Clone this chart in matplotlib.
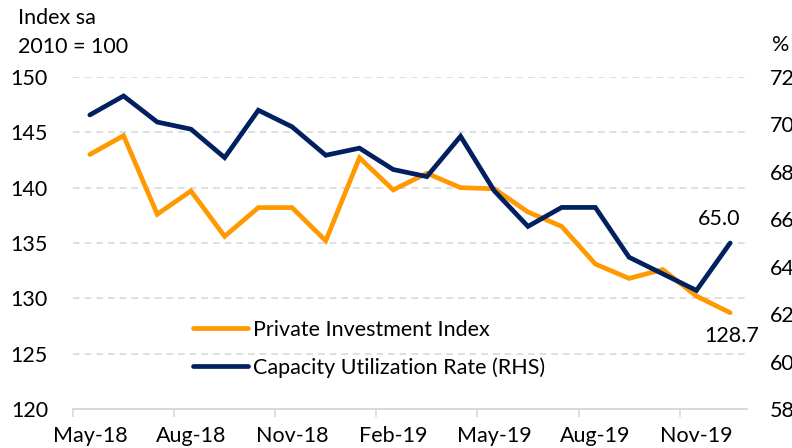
import matplotlib
matplotlib.use("Agg")
import matplotlib.pyplot as plt
import numpy as np

plt.rcParams['font.family'] = ['Lato', 'DejaVu Sans']

months = ['May-18', 'Jun-18', 'Jul-18', 'Aug-18', 'Sep-18', 'Oct-18', 'Nov-18',
          'Dec-18', 'Jan-19', 'Feb-19', 'Mar-19', 'Apr-19', 'May-19', 'Jun-19',
          'Jul-19', 'Aug-19', 'Sep-19', 'Oct-19', 'Nov-19', 'Dec-19']
private_inv = [143.0, 144.7, 137.6, 139.7, 135.6, 138.2, 138.2, 135.2, 142.7, 139.8,
               141.3, 140.0, 139.9, 137.8, 136.5, 133.1, 131.8, 132.6, 130.2, 128.7]
capacity_util = [70.4, 71.2, 70.1, 69.8, 68.6, 70.6, 69.9, 68.7, 69.0, 68.1,
                 67.8, 69.5, 67.2, 65.7, 66.5, 66.5, 64.4, 63.7, 63.0, 65.0]

ORANGE = '#FF9900'
NAVY = '#002060'
W, H = 792, 448
FS = 15.5

fig = plt.figure(figsize=(W / 100, H / 100), dpi=100)
ax = fig.add_axes([73 / W, 1 - 409 / H, (747 - 73) / W, (409 - 77) / H])
ax2 = ax.twinx()

x = np.arange(len(months))
l1, = ax.plot(x, private_inv, color=ORANGE, lw=3.4, solid_capstyle='round', solid_joinstyle='miter')
l2, = ax2.plot(x, capacity_util, color=NAVY, lw=3.4, solid_capstyle='round', solid_joinstyle='miter')

ax.set_xlim(-0.5, len(months) - 0.5)
ax.set_ylim(120, 150)
ax.set_yticks(np.arange(120, 151, 5))
ax2.set_ylim(58, 72)
ax2.set_yticks(np.arange(58, 73, 2))

ax.grid(axis='y', color='#d9d9d9', ls=(0, (4, 3)), lw=1.2)
ax.set_axisbelow(True)

# x ticks between categories, labels on every third month
ax.set_xticks(np.arange(-0.5, len(months) - 0.5, 3))
ax.set_xticklabels([])
ax.set_xticks(np.arange(0, len(months), 3), minor=True)
ax.set_xticklabels(months[::3], minor=True)
ax.tick_params(axis='x', which='major', length=6, width=1.2, color='#d9d9d9')
ax.tick_params(axis='x', which='minor', length=0, pad=12, labelsize=FS)
ax.tick_params(axis='y', length=0, pad=18, labelsize=FS)
ax2.tick_params(axis='y', length=0, pad=16.5, labelsize=FS)

for a in (ax, ax2):
    for s in ('top', 'left', 'right'):
        a.spines[s].set_visible(False)
    a.spines['bottom'].set_color('#d9d9d9')
    a.spines['bottom'].set_linewidth(1.2)

fig.text(18 / W, 1 - 18 / H, 'Index sa', fontsize=FS, va='center', ha='left')
fig.text(18 / W, 1 - 47 / H, '2010 = 100', fontsize=FS, va='center', ha='left')
fig.text(772 / W, 1 - 45 / H, '%', fontsize=FS, va='center', ha='left')

ax2.annotate(f'{capacity_util[-1]:.1f}', (x[-1], capacity_util[-1]), xytext=(-11, 24),
             textcoords='offset pixels', ha='center', va='center', fontsize=FS)
ax.annotate(f'{private_inv[-1]:.1f}', (x[-1], private_inv[-1]), xytext=(2, -23),
            textcoords='offset pixels', ha='center', va='center', fontsize=FS)

ax2.legend([l1, l2], ['Private Investment Index', 'Capacity Utilization Rate (RHS)'],
           loc='upper left', bbox_to_anchor=(193 / W, 1 - 320 / H),
           bbox_transform=fig.transFigure, frameon=False, fontsize=FS,
           handlelength=2.55, handletextpad=0.22, labelspacing=0.8, borderaxespad=0,
           borderpad=0)

fig.savefig('out.png', dpi=100)
